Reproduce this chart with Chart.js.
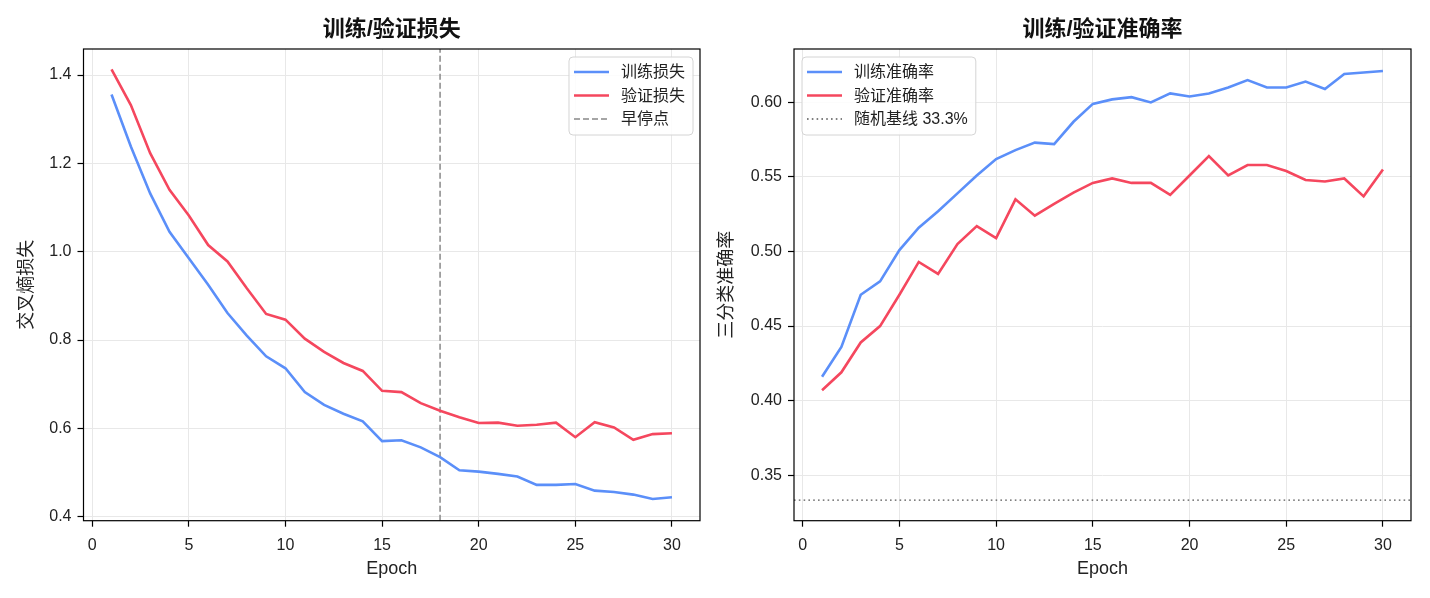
<!DOCTYPE html>
<html>
<head>
<meta charset="utf-8">
<script src="https://cdn.jsdelivr.net/npm/chart.js@4"></script>
<style>
  body { margin: 0; background: #fff; }
  canvas { position: absolute; top: 0; }
  #lossChart { left: 0; }
  #accChart { left: 715px; }
</style>
</head>
<body>
<canvas id="lossChart" width="715" height="598"></canvas>
<canvas id="accChart" width="715" height="598"></canvas>
<script>
const epochs = [1,2,3,4,5,6,7,8,9,10,11,12,13,14,15,16,17,18,19,20,21,22,23,24,25,26,27,28,29,30];
const trainLoss = [1.356,1.238,1.132,1.045,0.985,0.925,0.861,0.810,0.763,0.736,0.682,0.653,0.633,0.616,0.571,0.573,0.557,0.535,0.505,0.502,0.497,0.491,0.472,0.472,0.474,0.459,0.456,0.450,0.440,0.444];
const valLoss = [1.413,1.332,1.223,1.140,1.082,1.015,0.978,0.917,0.859,0.846,0.803,0.773,0.748,0.730,0.685,0.682,0.657,0.640,0.625,0.612,0.613,0.606,0.608,0.613,0.580,0.614,0.602,0.574,0.587,0.589];
const trainAcc = [0.416,0.436,0.471,0.480,0.501,0.516,0.527,0.539,0.551,0.562,0.568,0.573,0.572,0.587,0.599,0.602,0.6035,0.600,0.606,0.604,0.606,0.610,0.615,0.610,0.610,0.614,0.609,0.619,0.620,0.621];
const valAcc = [0.407,0.419,0.439,0.450,0.471,0.493,0.485,0.505,0.517,0.509,0.535,0.524,0.532,0.5395,0.546,0.549,0.546,0.546,0.538,0.551,0.564,0.551,0.558,0.558,0.554,0.548,0.547,0.549,0.537,0.555];
const earlyStop = 18;
const baseline = 1 / 3;

const xTicks = [0,5,10,15,20,25,30];
const lossTicks = [0.4,0.6,0.8,1.0,1.2,1.4];
const accTicks = [0.35,0.40,0.45,0.50,0.55,0.60];
const xRange = [-0.45, 31.45];
const lossRange = [0.3909, 1.4589];
const accRange = [0.3195, 0.6358];

const BLUE = '#5B8FF9', RED = '#F5475E';
const FONT = "'Liberation Sans', 'Noto Sans CJK SC', sans-serif";

function pts(ys){ return epochs.map((e,i) => ({x:e, y:ys[i]})); }

// full box round the plot, like matplotlib spines
const frame = {
  id: 'frame',
  afterDatasetsDraw(chart){
    const {ctx, chartArea:a} = chart;
    ctx.save();
    ctx.strokeStyle = '#000'; ctx.lineWidth = 1.2;
    ctx.strokeRect(a.left, a.top, a.right - a.left, a.bottom - a.top);
    ctx.restore();
  }
};

// legend drawn inside the plot
const insideLegend = {
  id: 'insideLegend',
  afterDraw(chart, args, opts){
    const {ctx, chartArea:a} = chart;
    const sets = chart.data.datasets;
    ctx.save();
    ctx.font = '16px ' + FONT;
    const tw = Math.max(...sets.map(d => ctx.measureText(d.label).width));
    const w = 52 + tw + 8, h = 78;
    const x = opts.side === 'right' ? a.right - 7 - w : a.left + 8;
    const y = a.top + 8;
    ctx.beginPath();
    ctx.roundRect(x, y, w, h, 4);
    ctx.fillStyle = 'rgba(255,255,255,0.85)'; ctx.fill();
    ctx.strokeStyle = '#d4d4d4'; ctx.lineWidth = 1; ctx.stroke();
    sets.forEach((d, i) => {
      const ry = y + 15 + i * 23.5;
      ctx.beginPath();
      ctx.setLineDash(d.borderDash || []);
      ctx.strokeStyle = d.borderColor; ctx.lineWidth = d.borderWidth;
      ctx.moveTo(x + 5, ry); ctx.lineTo(x + 40, ry); ctx.stroke();
      ctx.setLineDash([]);
      ctx.fillStyle = '#222'; ctx.textBaseline = 'middle'; ctx.textAlign = 'left';
      ctx.fillText(d.label, x + 52, ry + 1);
    });
    ctx.restore();
  }
};

function axes(yTicks, yRange, yTitle, yWidth, yTitlePad, dec){
  const tickFont = {family: FONT, size: 16};
  return {
    x: {
      type: 'linear', min: xRange[0], max: xRange[1],
      afterBuildTicks: s => { s.ticks = xTicks.map(v => ({value: v})); },
      afterFit: s => { s.height = 77.3; },
      grid: {color: '#e8e8e8', tickColor: '#000', tickLength: 6, tickWidth: 1.2},
      border: {display: false},
      ticks: {font: tickFont, color: '#222', padding: 9, maxRotation: 0},
      title: {display: true, text: 'Epoch', font: {family: FONT, size: 18}, color: '#222', padding: {top: 0, bottom: 18}}
    },
    y: {
      type: 'linear', min: yRange[0], max: yRange[1],
      afterBuildTicks: s => { s.ticks = yTicks.map(v => ({value: v})); },
      afterFit: s => { s.width = yWidth; },
      grid: {color: '#e8e8e8', tickColor: '#000', tickLength: 6, tickWidth: 1.2},
      border: {display: false},
      ticks: {font: tickFont, color: '#222', padding: 6, callback: v => v.toFixed(dec)},
      title: {display: true, text: yTitle, font: {family: FONT, size: 18}, color: '#222', padding: {top: yTitlePad, bottom: 0}}
    }
  };
}

function titleOpts(text){
  return {display: true, text, fullSize: false, color: '#111',
    font: {family: FONT, size: 22, weight: 'bold', lineHeight: '26px'},
    padding: {top: 17, bottom: 6}};
}

const lineStyle = {pointRadius: 0, borderWidth: 2.6, tension: 0, fill: false};

new Chart(document.getElementById('lossChart'), {
  type: 'line',
  data: {datasets: [
    {label: '训练损失', data: pts(trainLoss), borderColor: BLUE, ...lineStyle},
    {label: '验证损失', data: pts(valLoss), borderColor: RED, ...lineStyle},
    {label: '早停点', data: [{x: earlyStop, y: lossRange[0]}, {x: earlyStop, y: lossRange[1]}],
     borderColor: '#888', borderWidth: 1.5, borderDash: [6, 3], pointRadius: 0}
  ]},
  options: {
    responsive: false, animation: false,
    layout: {padding: {left: 0, right: 15, top: 0, bottom: 0}},
    plugins: {legend: {display: false}, tooltip: {enabled: false},
      title: titleOpts('训练/验证损失'), insideLegend: {side: 'right'}},
    scales: axes(lossTicks, lossRange, '交叉熵损失', 83.5, 16, 1)
  },
  plugins: [frame, insideLegend]
});

new Chart(document.getElementById('accChart'), {
  type: 'line',
  data: {datasets: [
    {label: '训练准确率', data: pts(trainAcc), borderColor: BLUE, ...lineStyle},
    {label: '验证准确率', data: pts(valAcc), borderColor: RED, ...lineStyle},
    {label: '随机基线 33.3%', data: [{x: xRange[0], y: baseline}, {x: xRange[1], y: baseline}],
     borderColor: '#555', borderWidth: 1.3, borderDash: [1.6, 3.2], pointRadius: 0}
  ]},
  options: {
    responsive: false, animation: false,
    layout: {padding: {left: 0, right: 19, top: 0, bottom: 0}},
    plugins: {legend: {display: false}, tooltip: {enabled: false},
      title: titleOpts('训练/验证准确率'), insideLegend: {side: 'left'}},
    scales: axes(accTicks, accRange, '三分类准确率', 79, 1, 2)
  },
  plugins: [frame, insideLegend]
});
</script>
</body>
</html>
